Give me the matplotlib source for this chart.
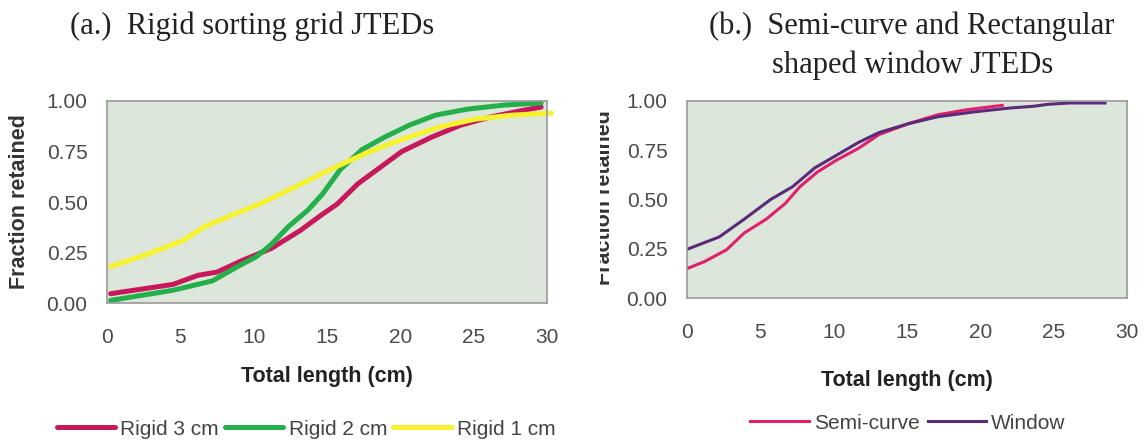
import matplotlib
matplotlib.use('Agg')
import matplotlib.pyplot as plt
from matplotlib.transforms import Bbox, TransformedBbox

# panel (a) - rigid sorting grids
rigid3_x = [0.25, 4.5, 6.2, 7.5, 9.2, 11.2, 13.2, 14.7, 15.7, 17.1, 18.6, 20.1, 22.1, 24.1, 26.1, 28.1, 29.6]
rigid3_y = [0.046, 0.092, 0.137, 0.153, 0.21, 0.27, 0.36, 0.44, 0.49, 0.59, 0.67, 0.75, 0.82, 0.88, 0.92, 0.95, 0.97]

rigid2_x = [0.25, 4.5, 7.2, 8.9, 10.2, 11.2, 12.4, 13.7, 14.7, 15.9, 17.4, 18.9, 20.6, 22.4, 24.6, 27.1, 29.6]
rigid2_y = [0.013, 0.063, 0.11, 0.18, 0.23, 0.29, 0.38, 0.46, 0.54, 0.66, 0.76, 0.82, 0.88, 0.93, 0.96, 0.98, 0.99]

rigid1_x = [0.25, 2.7, 5.2, 6.7, 8.7, 10.7, 12.7, 15.2, 17.6, 20.1, 22.6, 25.1, 27.6, 30.3]
rigid1_y = [0.18, 0.24, 0.31, 0.38, 0.44, 0.50, 0.57, 0.66, 0.74, 0.81, 0.87, 0.91, 0.93, 0.94]

# panel (b) - semi-curve and window
window_x = [0.03, 2.2, 3.9, 5.7, 7.2, 8.7, 10.2, 11.7, 13.1, 15.1, 17.1, 19.6, 22.1, 23.6, 24.6, 26.1, 28.5]
window_y = [0.248, 0.31, 0.40, 0.50, 0.565, 0.66, 0.725, 0.79, 0.84, 0.885, 0.92, 0.945, 0.965, 0.973, 0.983, 0.99, 0.99]

semi_x = [0.03, 1.2, 2.7, 3.9, 5.4, 6.7, 7.7, 8.9, 10.2, 11.7, 13.1, 15.1, 17.1, 19.1, 21.5]
semi_y = [0.15, 0.185, 0.245, 0.33, 0.40, 0.48, 0.565, 0.64, 0.70, 0.76, 0.83, 0.885, 0.93, 0.956, 0.978]

x_ticks = [0, 5, 10, 15, 20, 25, 30]
y_ticks = [0, 0.25, 0.5, 0.75, 1.0]
y_ticklabels = ['0.00', '0.25', '0.50', '0.75', '1.00']

plt.rcParams['font.family'] = ['Liberation Sans', 'DejaVu Sans']

W, H = 1146, 444
fig = plt.figure(figsize=(W / 100, H / 100), dpi=100)

ax1 = fig.add_axes([107 / W, 1 - 303 / H, 440 / W, 202 / H])
ax2 = fig.add_axes([687 / W, 1 - 298 / H, 440 / W, 197 / H])

tick_col = '#4a4a4a'
for ax in (ax1, ax2):
    ax.set_facecolor('#dce6da')
    ax.set_xlim(0, 30)
    ax.set_ylim(0, 1)
    ax.set_xticks(x_ticks)
    ax.set_yticks(y_ticks)
    ax.set_yticklabels(y_ticklabels)
    ax.tick_params(length=0, labelsize=15, colors=tick_col)
    ax.tick_params(axis='x', pad=18)
    ax.tick_params(axis='y', pad=14)
    for s in ax.spines.values():
        s.set_color('#9a9a9a')
        s.set_linewidth(1.2)

ax1.set_xlabel('Total length (cm)', fontsize=15.5, fontweight='bold', color='#222222', labelpad=14)
ax2.set_xlabel('Total length (cm)', fontsize=15.5, fontweight='bold', color='#222222', labelpad=20)

ax1.plot(rigid3_x, rigid3_y, color='#c8185c', lw=3.6, label='Rigid 3 cm', clip_on=False, solid_capstyle='round')
ax1.plot(rigid2_x, rigid2_y, color='#23b04a', lw=3.6, label='Rigid 2 cm', clip_on=False, solid_capstyle='round')
ax1.plot(rigid1_x, rigid1_y, color='#f6f22e', lw=3.6, label='Rigid 1 cm', clip_on=False, solid_capstyle='round')

ax2.plot(semi_x, semi_y, color='#e0206c', lw=2.2, label='Semi-curve')
ax2.plot(window_x, window_y, color='#5b2a7a', lw=2.2, label='Window')

ax1.set_ylabel('Fraction retained', fontsize=15.5, fontweight='bold', color='#333333', labelpad=12)

# right panel y-label is cut off at the left edge in the original
yl = fig.text(605 / W, 1 - 198 / H, 'Fraction retained', rotation=90, fontsize=15.5,
              fontweight='bold', color='#333333', ha='center', va='center')
yl.set_clip_box(TransformedBbox(Bbox.from_extents(600 / W, 0, 1, 1), fig.transFigure))
yl.set_clip_on(True)

leg1 = fig.legend(*ax1.get_legend_handles_labels(), loc='center', bbox_to_anchor=(306 / W, 1 - 429 / H),
                  ncol=3, frameon=False, fontsize=15, handlelength=2.8, handletextpad=0.25,
                  columnspacing=0.3, borderaxespad=0)
leg2 = fig.legend(*ax2.get_legend_handles_labels(), loc='center', bbox_to_anchor=(908 / W, 1 - 423 / H),
                  ncol=2, frameon=False, fontsize=15, handlelength=2.8, handletextpad=0.25,
                  columnspacing=0.4, borderaxespad=0)
for leg in (leg1, leg2):
    for t in leg.get_texts():
        t.set_color('#444444')

serif = ['Liberation Serif', 'DejaVu Serif']
fig.text(70 / W, 1 - 26 / H, '(a.)  Rigid sorting grid JTEDs', family=serif, fontsize=22,
         color='#222222', ha='left', va='center')
fig.text(709 / W, 1 - 26 / H, '(b.)  Semi-curve and Rectangular', family=serif, fontsize=22,
         color='#222222', ha='left', va='center')
fig.text(772 / W, 1 - 65 / H, 'shaped window JTEDs', family=serif, fontsize=22,
         color='#222222', ha='left', va='center')

fig.savefig('out.png', dpi=100)
